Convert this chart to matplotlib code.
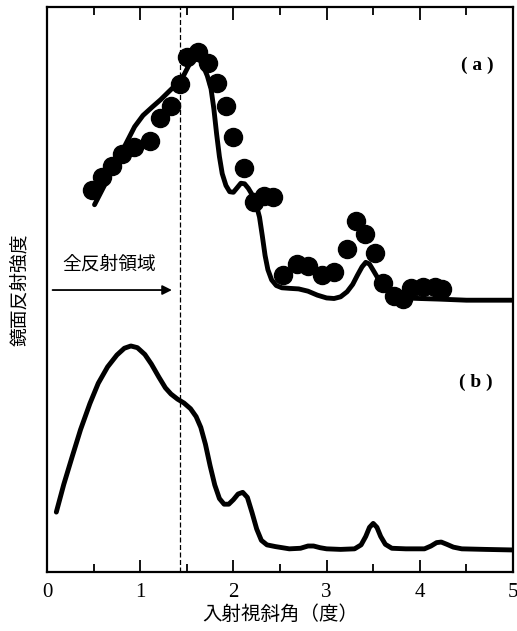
import matplotlib
matplotlib.use('Agg')
import matplotlib.pyplot as plt
from matplotlib.ticker import MultipleLocator, NullLocator

plt.rcParams['font.family'] = ['Noto Sans CJK JP', 'DejaVu Sans']

# (a) measured points (circles)
a_dot_x = [0.48, 0.59, 0.70, 0.80, 0.93, 1.10, 1.21, 1.33, 1.43, 1.50, 1.62, 1.73,
           1.82, 1.92, 2.00, 2.11, 2.22, 2.33, 2.42, 2.53, 2.68, 2.80, 2.95, 3.08,
           3.22, 3.31, 3.41, 3.52, 3.61, 3.72, 3.82, 3.91, 4.03, 4.16, 4.24]
a_dot_y = [67.6, 69.9, 71.9, 74.0, 75.2, 76.3, 80.4, 82.5, 86.4, 91.2, 92.0, 90.1,
           86.5, 82.5, 77.0, 71.5, 65.5, 66.5, 66.4, 52.6, 54.5, 54.2, 52.6, 53.1,
           57.2, 62.1, 59.8, 56.5, 51.2, 48.8, 48.3, 50.3, 50.4, 50.4, 50.1]

# (a) calculated curve
a_line_x = [0.51, 0.7, 0.85, 0.94, 1.03, 1.13, 1.22, 1.3, 1.4, 1.47, 1.52, 1.56, 1.6,
            1.64, 1.68, 1.72, 1.76, 1.79, 1.82, 1.85, 1.88, 1.92, 1.96, 2.0, 2.04,
            2.08, 2.12, 2.16, 2.2, 2.24, 2.28, 2.31, 2.34, 2.37, 2.41, 2.46, 2.52,
            2.6, 2.7, 2.8, 2.9, 3.0, 3.08, 3.15, 3.22, 3.28, 3.33, 3.38, 3.42, 3.46,
            3.5, 3.55, 3.6, 3.67, 3.75, 3.85, 4.0, 4.2, 4.5, 5.0]
a_line_y = [65.0, 71.1, 75.9, 78.8, 80.8, 82.3, 83.6, 84.9, 86.5, 88.0, 89.6, 90.6, 91.0,
            90.6, 89.4, 87.8, 85.5, 82.0, 77.5, 73.5, 70.5, 68.4, 67.3, 67.2, 68.0,
            68.8, 68.7, 67.9, 66.8, 65.3, 62.8, 59.5, 56.0, 53.5, 51.7, 50.7, 50.3,
            50.2, 50.1, 49.7, 49.0, 48.5, 48.4, 48.7, 49.6, 50.9, 52.5, 54.0, 54.8,
            54.5, 53.4, 52.0, 50.8, 49.6, 48.9, 48.5, 48.4, 48.3, 48.1, 48.1]

# (b) calculated curve
b_x = [0.1, 0.18, 0.27, 0.36, 0.46, 0.55, 0.65, 0.75, 0.83, 0.9, 0.97, 1.05, 1.12,
       1.2, 1.27, 1.33, 1.4, 1.47, 1.54, 1.6, 1.65, 1.7, 1.75, 1.8, 1.85, 1.9,
       1.95, 2.0, 2.05, 2.1, 2.15, 2.2, 2.25, 2.3, 2.36, 2.45, 2.6, 2.72, 2.8,
       2.86, 2.93, 3.0, 3.15, 3.3, 3.37, 3.42, 3.46, 3.5, 3.54, 3.58, 3.63, 3.7,
       3.85, 4.05, 4.12, 4.18, 4.23, 4.29, 4.36, 4.45, 4.7, 5.0]
b_y = [10.6, 15.5, 20.4, 25.2, 29.8, 33.4, 36.3, 38.4, 39.6, 40.0, 39.7, 38.5, 36.8,
       34.5, 32.6, 31.5, 30.6, 29.9, 28.9, 27.5, 25.6, 22.6, 18.8, 15.4, 13.0, 12.0,
       12.0, 12.8, 13.8, 14.1, 13.2, 10.5, 7.6, 5.6, 4.8, 4.5, 4.1, 4.2, 4.6,
       4.6, 4.3, 4.1, 4.0, 4.1, 4.8, 6.3, 7.9, 8.6, 7.9, 6.3, 4.9, 4.2,
       4.1, 4.1, 4.6, 5.2, 5.3, 4.9, 4.4, 4.1, 4.0, 3.9]

crit_angle = 1.43
arrow_y = 49.9

fig = plt.figure(figsize=(5.17, 6.31), dpi=100)
ax = fig.add_axes([0.0909, 0.0935, 0.9014, 0.8955])

ax.plot(a_line_x, a_line_y, color='black', lw=3.5, solid_joinstyle='round',
        solid_capstyle='round', zorder=3)
ax.plot(a_dot_x, a_dot_y, 'o', color='black', ms=13, zorder=4)
ax.plot(b_x, b_y, color='black', lw=3.5, solid_joinstyle='round',
        solid_capstyle='round', zorder=3)

ax.axvline(crit_angle, color='black', lw=0.9, ls=(0, (4, 2)), zorder=2)
ax.annotate('', xy=(crit_angle - 0.06, arrow_y), xytext=(0.03, arrow_y),
            arrowprops=dict(arrowstyle='-|>', color='black', lw=1.3,
                            mutation_scale=14))
ax.text(0.67, 54.5, '全反射領域', fontsize=13.5, ha='center', va='center')

ax.text(4.62, 89.7, '( a )', fontsize=14, fontweight='bold', ha='center', va='center',
        family='Liberation Serif')
ax.text(4.6, 33.6, '( b )', fontsize=14, fontweight='bold', ha='center', va='center',
        family='Liberation Serif')

ax.set_xlim(0, 5)
ax.set_ylim(0, 100)
ax.xaxis.set_major_locator(MultipleLocator(1))
ax.xaxis.set_minor_locator(MultipleLocator(0.5))
ax.yaxis.set_major_locator(NullLocator())
ax.tick_params(axis='x', which='major', direction='in', length=9, width=1.3,
               top=True, labelsize=15, pad=8)
ax.tick_params(axis='x', which='minor', direction='in', length=5.5, width=1.3, top=True)
for lab in ax.get_xticklabels():
    lab.set_family('Liberation Serif')
for s in ax.spines.values():
    s.set_linewidth(1.6)

ax.set_xlabel('入射視斜角（度）', fontsize=14, labelpad=1)
ax.set_ylabel('鏡面反射強度', fontsize=13.5, labelpad=12)

fig.savefig('out.png', dpi=100)
